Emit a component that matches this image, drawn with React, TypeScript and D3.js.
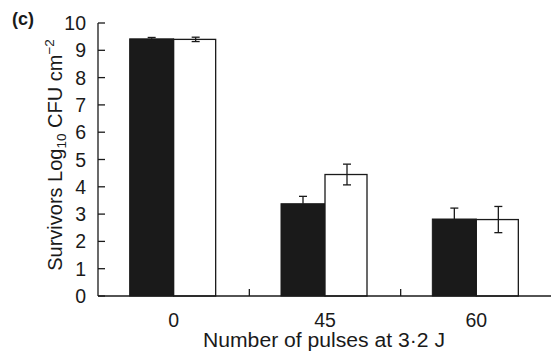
import React from "react";
import * as d3 from "d3";

const categories = ["0", "45", "60"];
const blackValues = [9.42, 3.38, 2.82];
const blackErrors = [0.05, 0.27, 0.4];
const whiteValues = [9.4, 4.45, 2.8];
const whiteErrors = [0.08, 0.38, 0.48];
const yTicks = [0, 1, 2, 3, 4, 5, 6, 7, 8, 9, 10];

const W = 551;
const H = 357;
const left = 98;
const right = 552;
const top = 23;
const bottom = 296;

const App = () => {
  const x = d3.scaleBand().domain(categories).range([left, right]).paddingInner(0).paddingOuter(0);
  const y = d3.scaleLinear().domain([0, 10]).range([bottom, top]);
  const barW = 44;
  const cap = 4;
  const font = "'Liberation Sans', Arial, Helvetica, sans-serif";

  return (
    <svg width={W} height={H} style={{ position: "absolute", left: 0, top: 0 }} fontFamily={font}>
      <rect width={W} height={H} fill="white" />
      {categories.map((c, i) => {
        const cx = (x(c) as number) + x.bandwidth() / 2;
        const bx = cx - barW;
        const wx = cx;
        return (
          <g key={c}>
            <rect x={bx} y={y(blackValues[i])} width={barW} height={bottom - y(blackValues[i])} fill="#1a1a1a" stroke="#1a1a1a" strokeWidth={1} />
            <line x1={bx + barW / 2} x2={bx + barW / 2} y1={y(blackValues[i])} y2={y(blackValues[i] + blackErrors[i])} stroke="#1a1a1a" strokeWidth={1.3} />
            <line x1={bx + barW / 2 - cap} x2={bx + barW / 2 + cap} y1={y(blackValues[i] + blackErrors[i])} y2={y(blackValues[i] + blackErrors[i])} stroke="#1a1a1a" strokeWidth={1.3} />
            <rect x={wx} y={y(whiteValues[i])} width={barW - 2} height={bottom - y(whiteValues[i])} fill="white" stroke="#1a1a1a" strokeWidth={1.3} />
            <line x1={wx + barW / 2} x2={wx + barW / 2} y1={y(whiteValues[i] - whiteErrors[i])} y2={y(whiteValues[i] + whiteErrors[i])} stroke="#1a1a1a" strokeWidth={1.3} />
            <line x1={wx + barW / 2 - cap} x2={wx + barW / 2 + cap} y1={y(whiteValues[i] + whiteErrors[i])} y2={y(whiteValues[i] + whiteErrors[i])} stroke="#1a1a1a" strokeWidth={1.3} />
            <line x1={wx + barW / 2 - cap} x2={wx + barW / 2 + cap} y1={y(whiteValues[i] - whiteErrors[i])} y2={y(whiteValues[i] - whiteErrors[i])} stroke="#1a1a1a" strokeWidth={1.3} />
            <text x={cx} y={327} textAnchor="middle" fontSize={19.5} fill="#1a1a1a">{c}</text>
          </g>
        );
      })}
      {/* axes */}
      <line x1={left} x2={left} y1={top} y2={bottom} stroke="#1a1a1a" strokeWidth={1.3} />
      <line x1={left} x2={right} y1={bottom} y2={bottom} stroke="#1a1a1a" strokeWidth={1.3} />
      {categories.slice(1).map((c) => (
        <line key={c} x1={x(c) as number} x2={x(c) as number} y1={bottom} y2={bottom - 7} stroke="#1a1a1a" strokeWidth={1.3} />
      ))}
      {yTicks.map((t) => (
        <g key={t}>
          <line x1={left} x2={left + 7} y1={y(t)} y2={y(t)} stroke="#1a1a1a" strokeWidth={1.3} />
          <text x={86} y={y(t)} dy="0.36em" textAnchor="end" fontSize={19.5} fill="#1a1a1a">{t}</text>
        </g>
      ))}
      <text x={324} y={347} textAnchor="middle" fontSize={19.5} fill="#1a1a1a" textLength={242} lengthAdjust="spacingAndGlyphs">Number of pulses at 3·2 J</text>
      <text transform="translate(62,155) rotate(-90)" textAnchor="middle" fontSize={20} fill="#1a1a1a">
        Survivors Log<tspan fontSize={13.5} dy={4}>10</tspan>
        <tspan dy={-4}> CFU cm</tspan>
        <tspan fontSize={13.5} dy={-8}>−2</tspan>
      </text>
      <text x={12} y={25} fontSize={18} fontWeight="bold" fill="#1a1a1a">(c)</text>
    </svg>
  );
};

export default App;
